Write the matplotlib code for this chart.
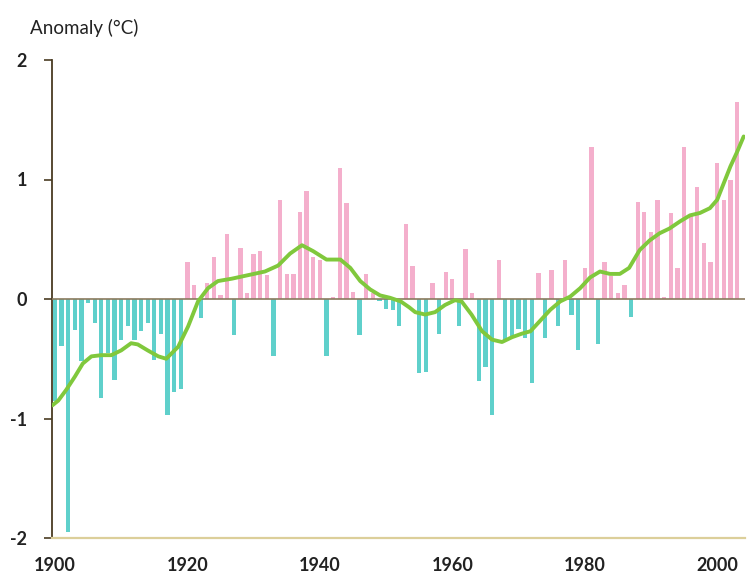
import numpy as np
import matplotlib.pyplot as plt

plt.rcParams['font.family'] = ['Lato', 'DejaVu Sans']

# yearly anomalies, 1900-2003
years = np.arange(1900, 2004)
anomaly = [
    -0.85, -0.39, -1.95, -0.26, -0.52, -0.03, -0.20, -0.83, -0.45, -0.68,
    -0.34, -0.23, -0.34, -0.27, -0.20, -0.51, -0.29, -0.97, -0.78, -0.75,
    0.31, 0.12, -0.16, 0.13, 0.35, 0.03, 0.54, -0.30, 0.43, 0.05,
    0.38, 0.40, 0.20, -0.48, 0.83, 0.21, 0.21, 0.73, 0.90, 0.35,
    0.33, -0.48, 0.02, 1.10, 0.80, 0.06, -0.30, 0.21, 0.05, -0.02,
    -0.08, -0.09, -0.23, 0.63, 0.28, -0.62, -0.61, 0.13, -0.29, 0.23,
    0.17, -0.23, 0.42, 0.05, -0.69, -0.57, -0.97, 0.33, -0.34, -0.33,
    -0.25, -0.33, -0.70, 0.22, -0.33, 0.24, -0.23, 0.33, -0.13, -0.43,
    0.26, 1.27, -0.38, 0.31, 0.19, 0.05, 0.12, -0.15, 0.81, 0.73,
    0.56, 0.83, 0.02, 0.72, 0.26, 1.27, 0.71, 0.94, 0.47, 0.31,
    1.14, 0.83, 1.00, 1.65,
]

# smoothed curve
smooth_years = [
    1899.6, 1900.5, 1901.7, 1903.0, 1904.2, 1905.5, 1907.0, 1908.5, 1910.0,
    1911.5, 1912.5, 1914.0, 1915.6, 1916.8, 1918.6, 1920.1, 1921.6, 1923.1,
    1924.6, 1926.7, 1929.2, 1931.7, 1933.7, 1935.5, 1937.3, 1939.0, 1941.0,
    1943.1, 1944.6, 1946.1, 1947.6, 1949.1, 1950.6, 1952.2, 1953.5, 1954.4,
    1955.9, 1957.4, 1958.9, 1960.4, 1961.4, 1962.9, 1964.5, 1966.0, 1967.5,
    1969.0, 1970.5, 1971.8, 1973.3, 1974.8, 1976.3, 1977.8, 1979.3, 1980.8,
    1982.3, 1983.8, 1985.3, 1986.7, 1988.3, 1989.8, 1991.3, 1992.8, 1994.4,
    1995.9, 1997.4, 1998.9, 2000.0, 2001.0, 2002.0, 2003.0, 2004.0,
]
smooth_vals = [
    -0.89, -0.85, -0.76, -0.65, -0.54, -0.48, -0.47, -0.47, -0.43,
    -0.37, -0.38, -0.43, -0.48, -0.50, -0.40, -0.23, -0.02, 0.09,
    0.15, 0.17, 0.20, 0.23, 0.28, 0.38, 0.45, 0.40, 0.33,
    0.33, 0.26, 0.15, 0.08, 0.03, 0.01, -0.02, -0.07, -0.11,
    -0.13, -0.11, -0.05, -0.01, -0.02, -0.13, -0.27, -0.34, -0.36,
    -0.32, -0.29, -0.27, -0.18, -0.09, -0.02, 0.02, 0.09, 0.18,
    0.23, 0.21, 0.21, 0.26, 0.41, 0.49, 0.55, 0.59, 0.65,
    0.70, 0.72, 0.76, 0.83, 0.97, 1.11, 1.23, 1.36,
]

pink = '#f4afcc'
teal = '#5fd0cb'
green = '#80c83c'

fig = plt.figure(figsize=(7.47, 5.74), dpi=100)
ax = fig.add_axes([52/747, 36/574, 693/747, 478/574])

anomaly = np.array(anomaly)
colors = [pink if v >= 0 else teal for v in anomaly]
ax.bar(years, anomaly, width=0.65, color=colors, zorder=2)
ax.axhline(0, color='#8a7a5e', lw=1.2, zorder=3)
ax.plot(smooth_years, smooth_vals, color=green, lw=2.8, zorder=4,
        solid_capstyle='round', solid_joinstyle='round')

ax.set_xlim(1899.55, 2004.2)
ax.set_ylim(-2, 2)

for s in ['top', 'right']:
    ax.spines[s].set_visible(False)
ax.spines['left'].set_color('#4a3c22')
ax.spines['left'].set_linewidth(1.3)
ax.spines['bottom'].set_color('#dccf9a')
ax.spines['bottom'].set_linewidth(1.6)

ax.set_yticks([-2, -1, 0, 1, 2])
ax.set_yticklabels(['-2', '-1', '0', '1', '2'])
ax.set_xticks([1900, 1920, 1940, 1960, 1980, 2000])
ax.tick_params(axis='y', length=6, width=1.2, color='#4a3c22', pad=12,
               labelsize=13, labelcolor='#222222')
ax.tick_params(axis='x', length=0, pad=14, labelsize=13, labelcolor='#222222')
for lab in ax.get_xticklabels() + ax.get_yticklabels():
    lab.set_fontweight('bold')

fig.text(30/747, 1 - 28/574, 'Anomaly (°C)', fontsize=13.5, color='#222222',
         va='center', ha='left')

plt.savefig('out.png', dpi=100)
